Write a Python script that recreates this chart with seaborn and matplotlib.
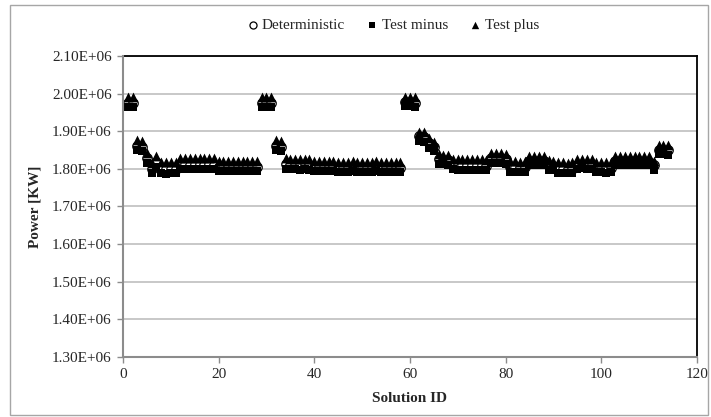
import matplotlib
matplotlib.use("Agg")
import matplotlib.pyplot as plt
import matplotlib.ticker as mticker
from matplotlib.patches import Rectangle
import seaborn as sns
import pandas as pd

# Power per solution, in units of 1E+06 KW
solution_id = list(range(1, 115))

deterministic = [
    1.976, 1.975, 1.861, 1.858, 1.828, 1.800, 1.818, 1.800, 1.799, 1.800,
    1.800, 1.812, 1.812, 1.811, 1.812, 1.812, 1.811, 1.812, 1.811, 1.805,
    1.805, 1.804, 1.805, 1.805, 1.804, 1.805, 1.805, 1.804, 1.976, 1.975,
    1.975, 1.861, 1.858, 1.812, 1.811, 1.811, 1.810, 1.811, 1.810, 1.806,
    1.806, 1.805, 1.806, 1.805, 1.803, 1.803, 1.803, 1.804, 1.803, 1.803,
    1.803, 1.803, 1.804, 1.803, 1.803, 1.803, 1.803, 1.802, 1.978, 1.977,
    1.976, 1.886, 1.884, 1.868, 1.858, 1.825, 1.824, 1.823, 1.811, 1.810,
    1.810, 1.809, 1.810, 1.809, 1.809, 1.808, 1.829, 1.829, 1.828, 1.826,
    1.806, 1.806, 1.805, 1.806, 1.820, 1.821, 1.820, 1.820, 1.808, 1.807,
    1.800, 1.800, 1.799, 1.800, 1.810, 1.811, 1.810, 1.810, 1.803, 1.803,
    1.802, 1.803, 1.820, 1.821, 1.820, 1.820, 1.821, 1.820, 1.819, 1.819,
    1.810, 1.850, 1.850, 1.849,
]

test_minus = [
    1.964, 1.963, 1.849, 1.847, 1.815, 1.788, 1.806, 1.788, 1.787, 1.788,
    1.788, 1.800, 1.800, 1.799, 1.800, 1.800, 1.799, 1.800, 1.799, 1.794,
    1.794, 1.793, 1.794, 1.794, 1.793, 1.794, 1.794, 1.793, 1.964, 1.963,
    1.963, 1.849, 1.847, 1.800, 1.799, 1.799, 1.798, 1.799, 1.798, 1.795,
    1.795, 1.794, 1.795, 1.794, 1.792, 1.792, 1.792, 1.793, 1.792, 1.792,
    1.792, 1.792, 1.793, 1.792, 1.792, 1.792, 1.792, 1.791, 1.967, 1.966,
    1.965, 1.873, 1.871, 1.855, 1.846, 1.813, 1.812, 1.811, 1.799, 1.798,
    1.798, 1.797, 1.798, 1.797, 1.797, 1.796, 1.816, 1.816, 1.815, 1.813,
    1.792, 1.792, 1.791, 1.792, 1.809, 1.810, 1.809, 1.809, 1.797, 1.796,
    1.790, 1.790, 1.789, 1.790, 1.800, 1.801, 1.800, 1.800, 1.791, 1.791,
    1.790, 1.791, 1.810, 1.811, 1.810, 1.810, 1.811, 1.810, 1.809, 1.809,
    1.796, 1.838, 1.838, 1.837,
]

test_plus = [
    1.992, 1.991, 1.876, 1.874, 1.842, 1.815, 1.834, 1.818, 1.817, 1.818,
    1.818, 1.829, 1.829, 1.828, 1.829, 1.829, 1.828, 1.829, 1.828, 1.822,
    1.822, 1.821, 1.822, 1.822, 1.821, 1.822, 1.822, 1.821, 1.992, 1.991,
    1.991, 1.876, 1.874, 1.828, 1.827, 1.827, 1.826, 1.827, 1.826, 1.822,
    1.822, 1.821, 1.822, 1.821, 1.819, 1.819, 1.819, 1.820, 1.819, 1.819,
    1.819, 1.819, 1.820, 1.819, 1.819, 1.819, 1.819, 1.818, 1.992, 1.991,
    1.990, 1.899, 1.897, 1.882, 1.872, 1.838, 1.837, 1.836, 1.827, 1.826,
    1.826, 1.825, 1.826, 1.825, 1.825, 1.824, 1.842, 1.842, 1.841, 1.839,
    1.820, 1.820, 1.819, 1.820, 1.834, 1.835, 1.834, 1.834, 1.823, 1.822,
    1.817, 1.817, 1.816, 1.817, 1.825, 1.826, 1.825, 1.825, 1.818, 1.818,
    1.817, 1.818, 1.834, 1.835, 1.834, 1.834, 1.835, 1.834, 1.833, 1.833,
    1.822, 1.864, 1.864, 1.863,
]

y_ticks = [1.3, 1.4, 1.5, 1.6, 1.7, 1.8, 1.9, 2.0, 2.1]
x_ticks = [0, 20, 40, 60, 80, 100, 120]

sns.set_style("white")
plt.rcParams["font.family"] = ["Liberation Serif", "DejaVu Serif"]
plt.rcParams["font.size"] = 11

fig = plt.figure(figsize=(7.11, 4.17), dpi=100)
ax = fig.add_axes([0.173, 0.144, 0.807, 0.722])

df = pd.DataFrame({"id": solution_id, "det": deterministic,
                   "minus": test_minus, "plus": test_plus})

# draw order like the original: circles first, then squares, then triangles
sns.scatterplot(data=df, x="id", y="det", marker="o", s=46, color="white",
                edgecolor="black", linewidth=0.9, label="Deterministic", ax=ax, zorder=3)
sns.scatterplot(data=df, x="id", y="minus", marker="s", s=36, color="black",
                edgecolor="black", linewidth=0, label="Test minus", ax=ax, zorder=4)
sns.scatterplot(data=df, x="id", y="plus", marker="^", s=50, color="black",
                edgecolor="black", linewidth=0, label="Test plus", ax=ax, zorder=5)

ax.set_xlim(0, 120)
ax.set_ylim(1.3, 2.1)
ax.set_xticks(x_ticks)
ax.set_yticks(y_ticks)
ax.yaxis.set_major_formatter(mticker.FuncFormatter(lambda v, p: f"{v:.2f}E+06"))
ax.grid(axis="y", color="#bfbfbf", linewidth=1.2)
ax.set_axisbelow(True)

for side in ["top", "right"]:
    ax.spines[side].set_color("black")
    ax.spines[side].set_linewidth(1.3)
for side in ["left", "bottom"]:
    ax.spines[side].set_color("#8c8c8c")
    ax.spines[side].set_linewidth(1.5)
    ax.spines[side].set_zorder(6)

ax.tick_params(axis="both", direction="out", length=4, width=1, color="#8c8c8c",
               labelsize=11, pad=4, left=True, bottom=True)

ax.set_xlabel("Solution ID", fontweight="bold", fontsize=11, labelpad=8)
ax.set_ylabel("Power [KW]", fontweight="bold", fontsize=11, labelpad=8)

ax.get_legend().remove()
handles, labels = ax.get_legend_handles_labels()
fig.legend(handles, labels, loc="center", bbox_to_anchor=(0.55, 0.94), ncol=3,
           frameon=False, handletextpad=0.0, columnspacing=1.2, fontsize=11,
           markerscale=0.75, handlelength=1.2)

# chart area border
fig.patches.append(Rectangle((0.014, 0.005), 0.982, 0.982, transform=fig.transFigure,
                             fill=False, edgecolor="#a6a6a6", linewidth=1))

fig.savefig("out.png", dpi=100)
